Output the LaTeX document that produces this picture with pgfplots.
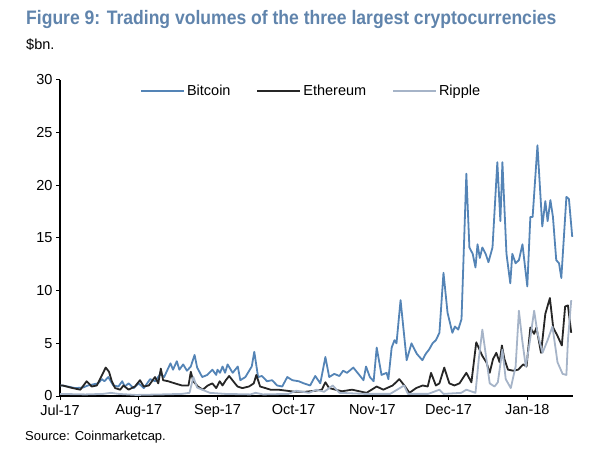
\documentclass[border=0pt]{standalone}
\usepackage{pgfplots}
\usepackage{pgfplotstable}
\pgfplotsset{compat=1.18}
\usepackage{fontspec}
\setmainfont{Liberation Sans}
\newfontfamily\titlefont{Liberation Sans}[FakeStretch=0.9]
\definecolor{btc}{RGB}{84,132,182}
\definecolor{eth}{RGB}{38,38,38}
\definecolor{xrp}{RGB}{166,180,200}
\definecolor{ttl}{RGB}{96,132,172}

\pgfplotstableread{
day val
0 1.0
1 1.0
6 0.75
9 0.8
11 1.0
15 1.2
16.5 1.6
17.5 1.4
19 1.8
21 1.0
23 0.9
24.5 1.4
25.5 0.9
27 1.2
29 0.75
31 1.2
33 0.75
35.5 1.6
37.5 1.4
39.5 2.1
41 1.8
43.5 3.1
44.5 2.5
46 3.3
47 2.5
48.5 3.0
50 2.4
51.5 2.8
53 3.9
54 2.7
56 1.8
58 2.0
60 2.5
61.5 2.0
62 2.5
63 2.2
64 2.8
65 2.2
66 3.0
68 2.2
70 2.8
71 1.5
73 1.8
75.5 2.8
76.5 4.2
78 1.8
79.5 1.9
81.5 1.4
83.5 1.5
85.5 1.0
87.5 0.9
89.5 1.8
91.5 1.5
94 1.4
96 1.2
98.5 1.0
100.5 1.9
102.5 1.2
104.5 3.7
106 1.8
108 2.1
110 1.9
111.5 2.4
113 2.2
115.5 2.7
117.5 2.1
119.5 1.5
120.5 2.8
122 1.8
123.5 1.4
124.7 4.6
126.6 2.0
128.6 2.2
129.3 1.6
130.6 4.6
131.7 5.3
132.5 5.0
134.1 9.1
136.5 3.4
138.4 5.0
140.5 4.0
142.7 3.4
144 4.0
145.3 4.4
146.7 5.0
148 5.3
149.4 6.0
151 11.7
152.6 7.9
154.5 6.0
155.5 6.6
156.8 6.3
158.1 7.3
160 21.1
161.2 14.1
162.5 13.5
163.6 12.2
164.4 14.4
165.3 13.1
166.3 14.1
167.6 13.5
168.7 12.7
170.3 14.1
172.2 22.2
173.4 16.6
174.2 22.2
175.8 13.5
177.3 10.7
178.1 13.5
179.4 12.6
180.7 12.9
182.1 14.4
184 10.4
185.2 17.0
186.1 17.0
188 23.8
189.9 16.1
191.1 18.5
192 16.6
193.1 18.6
194.1 17.0
195.4 12.9
196.5 12.6
197.4 11.2
199.4 18.9
200.4 18.7
201.7 15.1
}\btc

\pgfplotstableread{
day val
0 1.0
1 1.0
5 0.75
8 0.6
10.5 1.4
12.5 0.9
14.5 1.0
18 2.7
19.3 2.3
20.4 1.4
21.7 0.75
23.7 0.6
25 1.0
27 0.6
29.5 0.9
31.5 1.5
33 0.9
35 1.0
37.4 1.8
38.7 1.2
39.7 2.6
40.6 1.5
42.6 1.4
45.2 1.2
48 1.0
50.6 1.0
51.5 2.3
52.5 1.4
54.3 0.9
56.2 0.6
58.2 1.0
60 1.2
61.5 0.75
62.9 1.4
64 1.0
65.3 1.5
66.6 1.9
67.9 1.5
69.9 0.9
71.8 0.75
74.4 0.9
76.3 1.2
77.3 2.0
78.8 0.9
80.9 0.75
82.9 0.6
86 0.6
89.3 0.5
92.6 0.4
96.5 0.4
100.5 0.5
103.1 0.6
104.5 1.3
106 0.75
111 0.45
115 0.6
120.7 0.3
124.7 0.9
127.3 0.6
131 1.0
133.6 1.6
135.6 1.0
137.6 0.3
140.2 0.75
142.8 1.0
144.8 0.9
146.1 2.2
148 1.0
149.4 1.2
151.3 2.7
153.3 1.2
155.3 1.0
157.3 1.2
160 2.2
162 1.3
163.9 5.1
165.2 4.4
166.3 3.8
167.9 3.2
169.2 2.2
170.5 3.5
171.8 4.1
173.1 3.2
174 4.8
175 3.5
176.4 2.5
178.5 2.4
180.4 2.5
182.4 3.0
183.7 2.8
185.2 6.5
186.7 5.9
187.6 6.5
189.4 4.1
191.1 7.8
192.9 9.3
194.2 6.5
195.9 5.7
197.6 4.8
198.9 8.5
200 8.6
201.3 6.0
}\eth

\pgfplotstableread{
day val
0 0.2
10 0.15
17 0.2
20 0.3
23 0.2
30 0.1
40 0.15
48 0.2
51 0.3
52.5 1.8
54 0.8
56 0.6
59 0.3
65 0.2
75 0.15
77 0.3
80 0.15
90 0.2
93 0.5
98 0.3
101 0.6
104 0.4
107.4 1.0
110 0.3
120 0.2
130 0.2
135.5 1.0
137 0.2
145 0.2
149.4 0.6
151 0.2
158 0.3
160 0.6
163.6 0.3
164.9 3.5
166.3 6.3
167.9 3.5
169.2 1.2
171.1 0.9
172.4 1.3
174.2 4.4
175.5 1.6
177.5 0.75
179.4 2.8
180.7 8.1
182 5.3
183.4 2.8
184.7 4.7
186.7 8.1
188 6.0
190 4.1
192 5.3
193.9 6.6
195.9 3.2
197.9 2.1
199.4 2.0
200 5.3
201.3 9.1
}\xrp

\begin{document}
\begin{tikzpicture}[x=1pt,y=1pt]
\path[use as bounding box] (0,0) rectangle (612,463);
\node[anchor=west,inner sep=0pt,text=ttl] at (26,443) {\titlefont\fontsize{19.5}{19.5}\selectfont\bfseries Figure 9: Trading volumes of the three largest cryptocurrencies};
\node[anchor=west,inner sep=0pt] at (26,418) {\fontsize{14.5}{14.5}\selectfont \$bn.};
\node[anchor=west,inner sep=0pt] at (25,26) {\fontsize{13}{13}\selectfont Source: Coinmarketcap.};
\begin{axis}[
  at={(60pt,67pt)}, anchor=south west,
  scale only axis, width=513pt, height=316pt,
  xmin=0, xmax=202, ymin=0, ymax=30,
  axis x line=bottom, axis y line=left,
  axis line style={-, black},
  x axis line style={line width=2.6pt},
  y axis line style={line width=2pt},
  xtick={0,31,62,92,123,153,184},
  xticklabels={Jul-17,Aug-17,Sep-17,Oct-17,Nov-17,Dec-17,Jan-18},
  ytick={0,5,10,15,20,25,30},
  tick align=outside,
  major tick length=4pt,
  tick style={black, line width=1pt},
  /pgf/number format/assume math mode=true,
  ticklabel style={font=\fontsize{14.5}{14.5}\selectfont},
  xticklabel style={yshift=-1pt},
  clip=false,
  legend style={draw=none, fill=none, at={(0.156,0.965)}, anchor=west, inner sep=0pt,
    legend columns=3, font=\fontsize{14.5}{14.5}\selectfont,
    /tikz/every even column/.append style={column sep=24pt}},
  legend image code/.code={\draw[#1] (0pt,0pt) -- (43pt,0pt);},
  every axis plot/.append style={line width=1.8pt, line join=round},
]
\addplot[btc, no markers] table[x=day,y=val] {\btc};
\addlegendentry{Bitcoin}
\addplot[eth, no markers] table[x=day,y=val] {\eth};
\addlegendentry{Ethereum}
\addplot[xrp, no markers] table[x=day,y=val] {\xrp};
\addlegendentry{Ripple}
\end{axis}
\end{tikzpicture}
\end{document}
